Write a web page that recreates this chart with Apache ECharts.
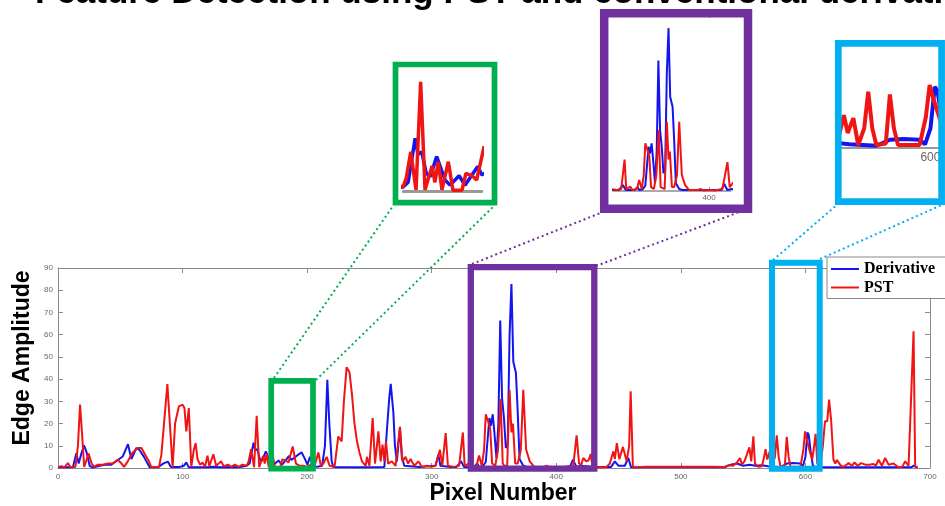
<!DOCTYPE html>
<html>
<head>
<meta charset="utf-8">
<script src="https://cdn.jsdelivr.net/npm/echarts@6/dist/echarts.min.js"></script>
<style>html,body{margin:0;padding:0;background:#fff;}#c{width:945px;height:506px;}</style>
</head>
<body>
<div id="c"></div>
<script>
// ---- data (pixel number, edge amplitude) ----
const pstX = [0,3,5,8,10,14,16,17.7,19,21,24.6,27,29,32,36,40,44,48,51,53,56,60,64,67,70,73,75,81,83,87.8,90,92,94,97,100,101.5,103,105,107,109,110.5,112,114,116,118,120,121.5,124.7,127,131,133,136.5,139,142,145,148,151.5,153,155,157.4,159.5,161.5,164.7,166,167.5,169.2,172.1,174.2,178.3,180.1,182.9,185,188.4,191,194,197,200,203,206,209,211,213,215.7,218,222,225,227.7,229.5,231.7,234,236,238,240,242,244,247,248,250,252.6,254.5,257.2,259,260.5,262,263.3,265,268,271,274.5,276.5,279,281,283,286,289.3,292,296,300,303,306.6,308.5,311.2,313,318,322,325,326.5,330,332,336,338,340.2,342,343.4,344.8,346.9,348.5,351,353.2,355.3,357,358.5,360.6,362.5,364,365.2,367,369,371.5,373.5,375.8,378.7,382.3,390,392.6,395,401.4,405,411.8,413.5,416.3,418.3,420,421.7,424,426,427.6,429,432,440,443,445.8,447,448.6,450.6,453.5,456.5,458.5,459.7,461.5,465,471,472.5,477,478.5,487,488.5,490,491.5,499,500.5,506,507.5,514,515.5,518,519.5,525,526.5,535,538,542,545,547.5,549,551,553,555,556.5,558.2,559.5,562,565,566.5,568,569.4,571.5,573.3,575.5,577,578.5,580,583.5,585,586.5,588,592,596,598.3,599.7,601,603.7,605.5,607,608.2,609.5,612,614,615.7,617.5,619,620.6,622.5,624,625.2,627.8,630,632,634.6,637.3,639.4,642,644.8,648,651.2,654.7,656.5,658.7,661.4,664,666.7,670.7,674.2,677.7,680.1,682.8,684.1,686.8,688.1,690];
const pstY = [0.5,0.8,0.3,2.2,0.3,0.5,10,28.5,18,0.5,6.5,2,0.5,1.5,1.5,2,2,3.7,2,0.5,3,7,9,9,6,3,0.3,0.3,6,37.8,18,0.3,20,27.7,28.5,27,16.5,27,0.5,8,11.2,4,1.5,2.5,0.5,5.5,0.8,6.2,1,3,0.8,1.5,0.5,1.5,0.5,1.5,1,3,8.5,0.4,23.5,0.4,5.5,2,6.4,0.4,6.4,0.3,0.3,3.9,3.4,2.5,9.7,2,1,1,0.5,1.5,1,7,1,2,5,1,0.5,14.2,12,30,45.4,43,33,20,12,7,3,1,5,1,22.5,2,16.5,3,10.5,3,12,2,3,1,18.5,3,5,2,4,1,3,0.5,1,0.5,1,8.2,1,15.7,1,0.5,1,16,0.8,2.2,0.5,1,5.6,1,8,24.2,24.9,18,2,1,8,31,2,1,1,35.2,16,20,2,2,8,35.2,8.2,3,0.5,0.5,1,0.3,0.5,0.3,1,0.3,14.7,2,1.5,4.5,3,3.5,6.3,1,0.3,0.3,2,7.5,4,11.2,4,9.5,3,10,34.5,0.5,0.1,0.6,0.1,0.6,0.1,0.6,0.1,0.6,0.1,0.6,0.1,0.6,0.1,0.6,0.1,0.6,0.1,0.6,0.1,0.5,1.2,1,2.5,4.5,1.5,3,6,9.3,3,14.3,2,0.5,0.8,4,8.5,3.8,7.7,0.6,5,14.7,5,0.6,1,14,5,0.6,0.6,0.6,8,16.5,13,7,4,10,15.4,2,1.5,10,21,21,30.8,21.7,3.7,2,3.7,1.5,0.5,1,2.2,1,2.5,1,2.2,1.5,1.5,1.8,1,3.7,1,4.5,1.5,2,0.5,0.5,3,1,1.5,61.5,0.5,0.2];

const derivX = [0,12,14.7,16.6,18.5,20.9,23,25.4,28,33.5,37.5,42.8,48.2,52,56.2,58.9,62.9,65.6,69,73.6,80,85.1,88.3,90.5,97.7,101,103,105,120,125,130,140,145,151.5,153.8,157,158.3,160,162,163.8,166.8,170.6,172.9,177,179.7,182,185.5,187.3,188.9,192.9,195.6,198.3,200.2,202.3,205,208,212,214.3,216.2,217.8,219.7,221,240,262,264.4,266,267.1,269.2,270.5,272,274.5,276,278,290,303,305.3,307,315,320,323.5,326,334,336.5,338,341,343.4,346.3,347.5,349,350.2,352,353.5,355,356.5,358,359.5,361,362.5,364,365.5,367.6,369,370.5,373.5,376.4,411,413.3,416.2,420,430,444,447,450,455,457.8,460,535,540,545,550,555,560,565,570,575,580,585,590,596,598,600,601.6,602.6,604.3,606,608,620,685,686.7,688,690];
const derivY = [0.3,0.3,6.7,2,6,10.2,7,1,0.2,1,1.5,1.5,3.7,5.2,10.7,4,9,8,5,0.3,0.3,2.2,2.8,0.5,0.5,1,2.5,0.3,0.3,0.6,0.3,0.5,0.3,1,2,11.4,8,8.5,4,3.2,7.5,2.5,1.4,3.4,1.4,3,5.4,3.6,4,6,7,4,1.5,5,1,0.5,1,10,39.7,20,3,0.5,0.3,0.5,20,32,37.9,25,10,3,18,5,1,0.5,1,6,1,0.5,0.5,3,0.5,0.5,2,0.5,0.8,2.7,22.5,19,24.2,16.7,4.3,20,66.4,31,22.5,9,10.7,60,82.8,47.8,42.8,25.9,4,1,0.5,0.5,3.7,0.5,1,0.5,0.5,3,1,1,4.5,0.3,0.3,1.5,2,1,1.5,1,1.2,0.8,0.6,0.4,2,2.2,2,0.8,5,16,15,7,1,0.5,0.3,0.3,1,0.3,0.3];

const xTicks = [0,700,100];
const yTicks = [0,90,10];
const seriesNames = ['Derivative','PST'];
const titleText = 'Feature Detection using PST and conventional derivative';
const xTitle = 'Pixel Number';
const yTitle = 'Edge Amplitude';
// inset views: [xmin, xmax, ymax]
const greenView = [151.6, 187.3, 26];
const purpleView = [315, 419, 90];
const blueView = [567.3, 602.9, 26.45];

const RED = '#f01414', BLUE = '#1414f0';
const GREEN = '#00B050', PURPLE = '#7030A0', CYAN = '#00B0F0';
const GRAY = '#8a8a8a';

const pst = pstX.map((x,i)=>[x,pstY[i]]);
const der = derivX.map((x,i)=>[x,derivY[i]]);

const chart = echarts.init(document.getElementById('c'), null, {renderer:'canvas'});

function mkLine(name, data, color, w, xi, yi){
  return {name, type:'line', data, xAxisIndex:xi, yAxisIndex:yi, symbol:'none', clip:true,
    lineStyle:{color, width:w}, itemStyle:{color}, emphasis:{disabled:true}, animation:false, z:3};
}
const lbl = {fontSize:8, color:'#666', fontFamily:'Liberation Sans'};
const frameLine = {show:true, onZero:false, lineStyle:{color:GRAY,width:1}};
const frameTick = {show:true, inside:true, length:5, lineStyle:{color:GRAY}};

const option = {
  animation:false,
  backgroundColor:'#fff',
  grid:[
    {left:58, top:268, width:872, height:200},
    {left:403.3, top:70, width:78.4, height:121.7},
    {left:613.3, top:14, width:117.2, height:177},
    {left:842, top:47.3, width:96.3, height:100}
  ],
  xAxis:[
    {type:'value', gridIndex:0, min:xTicks[0], max:xTicks[1], interval:xTicks[2], position:'bottom',
      axisLine:frameLine, axisTick:frameTick,
      axisLabel:Object.assign({margin:5}, lbl), splitLine:{show:false}},
    {type:'value', gridIndex:0, min:xTicks[0], max:xTicks[1], interval:xTicks[2], position:'top',
      axisLine:frameLine, axisTick:frameTick,
      axisLabel:{show:false}, splitLine:{show:false}},
    {type:'value', gridIndex:1, min:greenView[0], max:greenView[1], position:'bottom',
      axisLine:{onZero:false, lineStyle:{color:'#999',width:3}}, axisTick:{show:false}, axisLabel:{show:false}, splitLine:{show:false}},
    {type:'value', gridIndex:2, min:purpleView[0], max:purpleView[1], position:'bottom',
      axisLine:{onZero:false, lineStyle:{color:'#aaa',width:2}}, axisTick:{inside:true,length:4,customValues:[400],lineStyle:{color:'#999'}},
      axisLabel:Object.assign({customValues:[400], margin:3}, lbl), splitLine:{show:false}},
    {type:'value', gridIndex:2, min:purpleView[0], max:purpleView[1], position:'top',
      axisLine:{show:false, onZero:false}, axisTick:{inside:true,length:4,customValues:[400],lineStyle:{color:'#999'}},
      axisLabel:{show:false}, splitLine:{show:false}},
    {type:'value', gridIndex:3, min:blueView[0], max:blueView[1], position:'bottom',
      axisLine:{onZero:false, lineStyle:{color:'#999',width:2}}, axisTick:{show:false},
      axisLabel:{customValues:[600], margin:4, fontSize:12, color:'#666', fontFamily:'Liberation Sans'}, splitLine:{show:false}}
  ],
  yAxis:[
    {type:'value', gridIndex:0, min:yTicks[0], max:yTicks[1], interval:yTicks[2], position:'left',
      axisLine:frameLine, axisTick:frameTick,
      axisLabel:Object.assign({margin:5}, lbl), splitLine:{show:false}},
    {type:'value', gridIndex:0, min:yTicks[0], max:yTicks[1], interval:yTicks[2], position:'right',
      axisLine:frameLine, axisTick:frameTick,
      axisLabel:{show:false}, splitLine:{show:false}},
    {type:'value', gridIndex:1, min:0, max:greenView[2], show:false},
    {type:'value', gridIndex:2, min:0, max:purpleView[2], show:false},
    {type:'value', gridIndex:3, min:0, max:blueView[2], show:false}
  ],
  legend:{
    data:seriesNames, orient:'vertical', left:827, top:257, icon:'rect', itemWidth:28, itemHeight:2, itemGap:2.5,
    padding:[4,30,3,4], borderColor:'#888', borderWidth:1, backgroundColor:'#fff',
    textStyle:{fontFamily:'Liberation Serif', fontWeight:'bold', fontSize:16, color:'#000', lineHeight:14},
    selectedMode:false, z:20
  },
  series:[
    mkLine(seriesNames[0], der, BLUE, 2, 0, 0),
    mkLine(seriesNames[1], pst, RED, 2, 0, 0),
    mkLine('gD', der, BLUE, 3.5, 2, 2),
    mkLine('gP', pst, RED, 3.5, 2, 2),
    mkLine('pD', der, BLUE, 2, 3, 3),
    mkLine('pP', pst, RED, 2, 3, 3),
    mkLine('bD', der, BLUE, 4, 5, 4),
    mkLine('bP', pst, RED, 4, 5, 4)
  ],
  graphic:[
    {type:'text', x:35, y:10.5, z:30, style:{text:titleText, font:'bold 35px "Liberation Sans"', fill:'#000', align:'left', verticalAlign:'bottom'}},
    {type:'text', x:23, y:358, rotation:Math.PI/2, z:30, style:{text:yTitle, font:'bold 23px "Liberation Sans"', fill:'#000', align:'center', verticalAlign:'middle'}},
    {type:'text', x:503, y:494, z:30, style:{text:xTitle, font:'bold 23px "Liberation Sans"', fill:'#000', align:'center', verticalAlign:'middle'}},
    // highlight boxes on main plot
    {type:'rect', z:25, shape:{x:271.2,y:380.8,width:41.8,height:87.9}, style:{fill:null, stroke:GREEN, lineWidth:5.7}},
    {type:'rect', z:25, shape:{x:470.8,y:267.2,width:123.5,height:201.5}, style:{fill:null, stroke:PURPLE, lineWidth:6.3}},
    {type:'rect', z:25, shape:{x:772,y:262.8,width:47.7,height:205.9}, style:{fill:null, stroke:CYAN, lineWidth:6}},
    // inset frames
    {type:'rect', z:25, shape:{x:395.5,y:64.5,width:99,height:138.2}, style:{fill:null, stroke:GREEN, lineWidth:5.7}},
    {type:'rect', z:25, shape:{x:604.2,y:13.3,width:143.8,height:195.4}, style:{fill:null, stroke:PURPLE, lineWidth:8.5}},
    {type:'rect', z:25, shape:{x:838.3,y:43.3,width:103.3,height:158.4}, style:{fill:null, stroke:CYAN, lineWidth:6.7}},
    // connectors
    {type:'line', z:24, shape:{x1:274,y1:378,x2:393,y2:206}, style:{stroke:GREEN, lineWidth:2, lineDash:[2,3]}},
    {type:'line', z:24, shape:{x1:316,y1:380,x2:494,y2:206}, style:{stroke:GREEN, lineWidth:2, lineDash:[2,3]}},
    {type:'line', z:24, shape:{x1:472,y1:264,x2:603,y2:212}, style:{stroke:PURPLE, lineWidth:2, lineDash:[2,3]}},
    {type:'line', z:24, shape:{x1:596,y1:266,x2:750,y2:208}, style:{stroke:PURPLE, lineWidth:2, lineDash:[2,3]}},
    {type:'line', z:24, shape:{x1:773,y1:260,x2:838,y2:204}, style:{stroke:CYAN, lineWidth:2, lineDash:[2,3]}},
    {type:'line', z:24, shape:{x1:820,y1:259,x2:944,y2:204}, style:{stroke:CYAN, lineWidth:2, lineDash:[2,3]}}
  ]
};
chart.setOption(option);
</script>
</body>
</html>
